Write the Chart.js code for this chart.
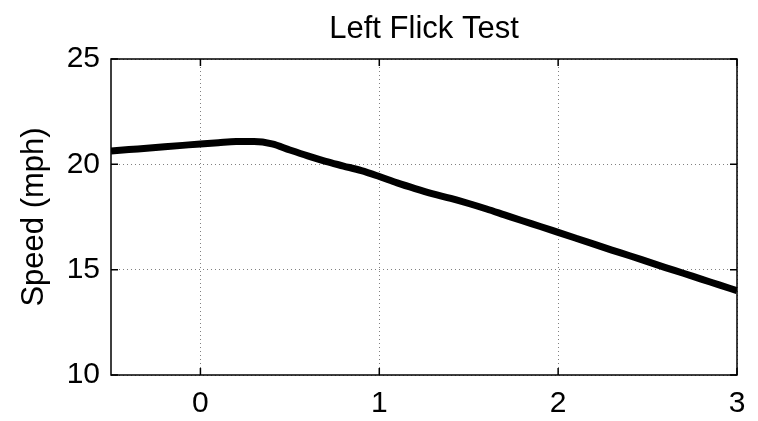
<!DOCTYPE html>
<html>
<head>
<meta charset="utf-8">
<title>Left Flick Test</title>
<script src="https://cdn.jsdelivr.net/npm/chart.js@4"></script>
<style>
  html, body { margin: 0; padding: 0; background: #fff; }
  #wrap { width: 758px; height: 421px; }
</style>
</head>
<body>
<div id="wrap"><canvas id="chart" width="758" height="421"></canvas></div>
<script>
// time (s) and speed (mph)
var timeValues = [-0.5, -0.4, -0.3, -0.2, -0.1, 0, 0.1, 0.2, 0.3, 0.4, 0.5, 0.6, 0.7, 0.8, 0.9,
    1.0, 1.1, 1.2, 1.3, 1.4, 1.5, 1.6, 1.7, 1.8, 1.9, 2.0, 2.1, 2.2, 2.3, 2.4, 2.5, 2.6, 2.7, 2.8, 2.9, 3.0];
var speedValues = [20.63, 20.70, 20.76, 20.83, 20.90, 20.97, 21.03, 21.08, 21.08, 20.97, 20.68, 20.40, 20.14, 19.92, 19.70,
    19.42, 19.12, 18.85, 18.60, 18.38, 18.14, 17.88, 17.60, 17.32, 17.05, 16.77, 16.49, 16.21, 15.93, 15.66, 15.38, 15.10, 14.83, 14.55, 14.28, 14.00];

var xTicks = [0, 1, 2, 3];
var yTicks = [10, 15, 20, 25];

var fontFamily = '"Liberation Sans", Arial, sans-serif';

// recuadro y marcas hacia dentro, estilo matlab
var boxPlugin = {
    id: 'boxPlugin',
    afterDatasetsDraw: function (chart) {
        var ctx = chart.ctx;
        var a = chart.chartArea;
        var xs = chart.scales.x, ys = chart.scales.y;
        ctx.save();
        ctx.strokeStyle = '#000';
        ctx.lineWidth = 1.5;
        ctx.strokeRect(a.left, a.top, a.right - a.left, a.bottom - a.top);
        ctx.beginPath();
        xTicks.forEach(function (v) {
            var px = xs.getPixelForValue(v);
            ctx.moveTo(px, a.bottom); ctx.lineTo(px, a.bottom - 7);
            ctx.moveTo(px, a.top); ctx.lineTo(px, a.top + 7);
        });
        yTicks.forEach(function (v) {
            var py = ys.getPixelForValue(v);
            ctx.moveTo(a.left, py); ctx.lineTo(a.left + 7, py);
            ctx.moveTo(a.right, py); ctx.lineTo(a.right - 7, py);
        });
        ctx.stroke();
        ctx.restore();
    }
};

var points = timeValues.map(function (t, i) {
    return { x: t, y: speedValues[i] };
});

new Chart(document.getElementById('chart'), {
    type: 'line',
    data: {
        datasets: [{
            data: points,
            borderColor: '#000',
            borderWidth: 7,
            pointRadius: 0,
            cubicInterpolationMode: 'monotone',
            fill: false
        }]
    },
    options: {
        responsive: false,
        animation: false,
        layout: { padding: { left: 0, right: 21, top: 0, bottom: 0 } },
        plugins: {
            legend: { display: false },
            tooltip: { enabled: false },
            title: {
                display: true,
                fullSize: false,
                text: 'Left Flick Test',
                color: '#000',
                font: { family: fontFamily, size: 31, weight: 'normal' },
                padding: { top: 10.4, bottom: 11.4 }
            }
        },
        scales: {
            x: {
                type: 'linear',
                min: -0.5,
                max: 3,
                afterBuildTicks: function (scale) {
                    scale.ticks = xTicks.map(function (v) { return { value: v }; });
                },
                afterFit: function (scale) { scale.height = 46; },
                border: { display: false, dash: [1, 3] },
                grid: {
                    color: '#808080',
                    lineWidth: 1,
                    drawTicks: false
                },
                ticks: {
                    color: '#000',
                    padding: 11,
                    maxRotation: 0,
                    font: { family: fontFamily, size: 30 }
                }
            },
            y: {
                min: 10,
                max: 25,
                afterBuildTicks: function (scale) {
                    scale.ticks = yTicks.map(function (v) { return { value: v }; });
                },
                afterFit: function (scale) { scale.width = 111; },
                border: { display: false, dash: [1, 3] },
                grid: {
                    color: '#808080',
                    lineWidth: 1,
                    drawTicks: false
                },
                ticks: {
                    color: '#000',
                    padding: 11,
                    font: { family: fontFamily, size: 30 }
                },
                title: {
                    display: true,
                    text: 'Speed (mph)',
                    color: '#000',
                    padding: { top: 16, bottom: 0 },
                    font: { family: fontFamily, size: 31 }
                }
            }
        }
    },
    plugins: [boxPlugin]
});
</script>
</body>
</html>
